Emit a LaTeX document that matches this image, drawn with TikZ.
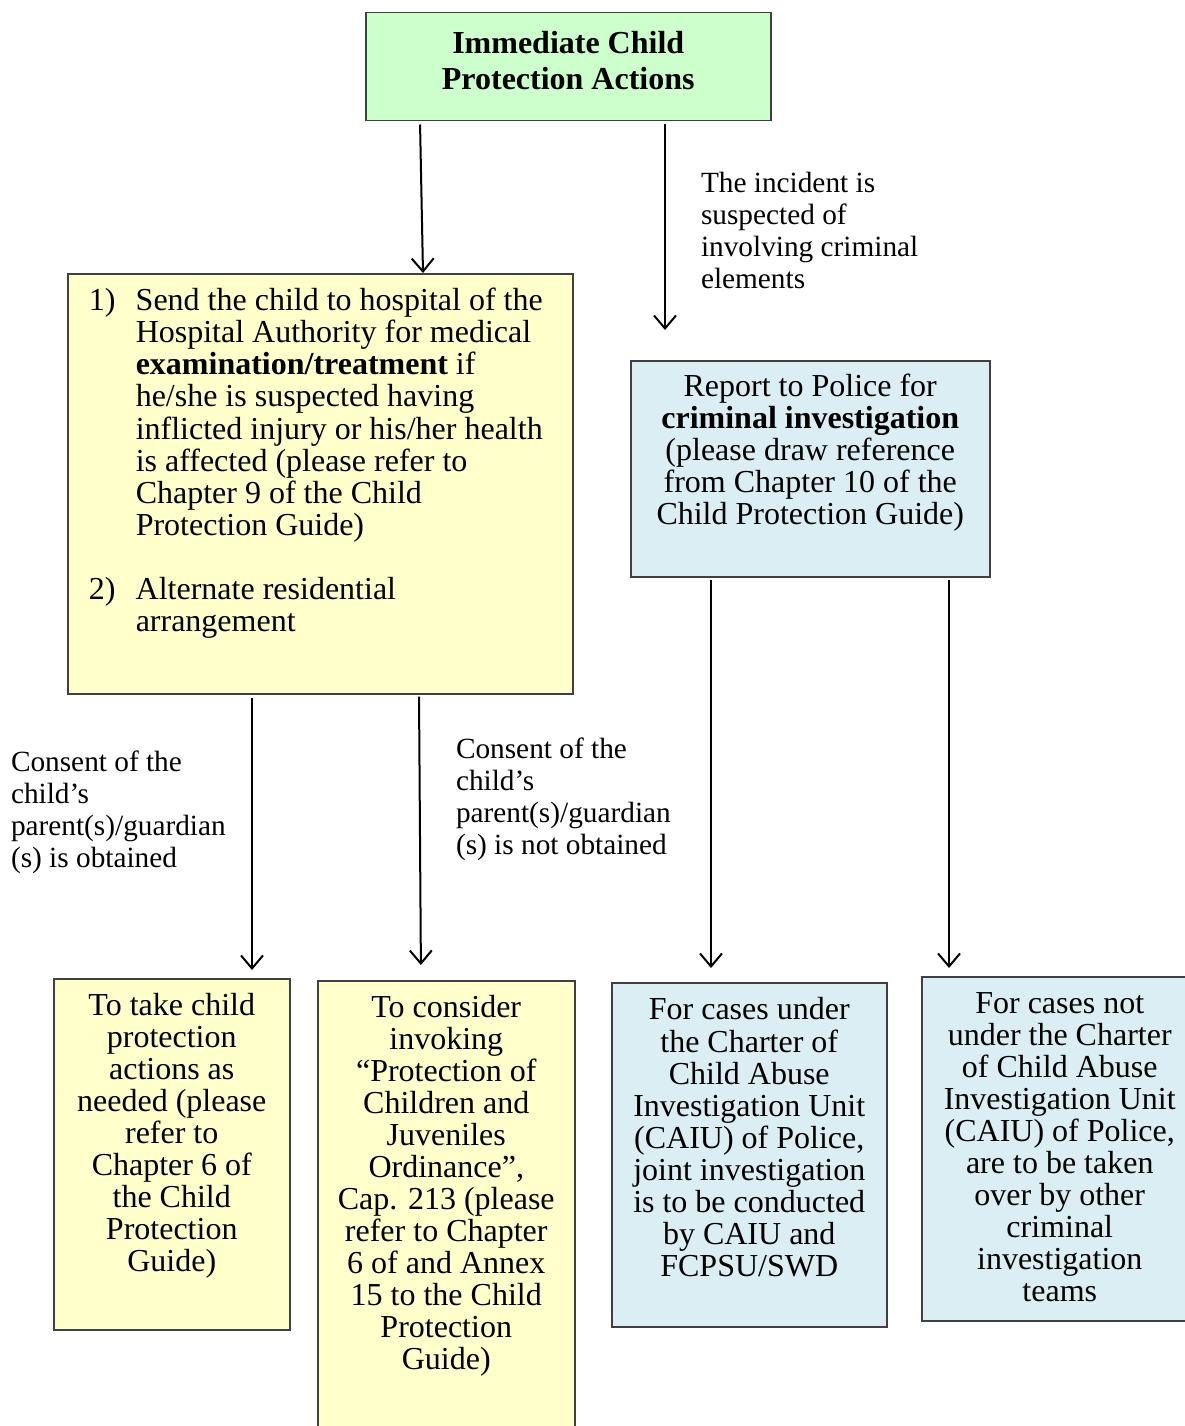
\documentclass[tikz,border=0pt]{standalone}
\usepackage{fontspec}
\setmainfont{Liberation Serif}
\usetikzlibrary{positioning,arrows.meta}
\definecolor{boxgreen}{HTML}{CCFFCC}
\definecolor{boxyellow}{HTML}{FFFFCC}
\definecolor{boxblue}{HTML}{DBEEF4}
\tikzstyle{box}=[draw=black!75,line width=1.5pt,inner sep=0pt,anchor=north west]
\tikzstyle{greenbox}=[box,fill=boxgreen,font=\bfseries\fontsize{32}{36}\selectfont]
\tikzstyle{yellowbox}=[box,fill=boxyellow]
\tikzstyle{bluebox}=[box,fill=boxblue]
\tikzstyle{note}=[inner sep=0pt,anchor=north west,align=left,font=\fontsize{29.3}{32}\selectfont,execute at begin node=\strut]
\newcommand{\newBox}[7][14.4pt]{\node[#3](#2) at (#4) {\begin{minipage}[t][#6][t]{#5}\centering\vspace*{#1}\strut #7\end{minipage}};}
\newcommand{\newArrow}[3]{\draw[->,#3] (#1) -- (#2);}

\begin{document}
\begin{tikzpicture}[x=1pt,y=-1pt,
      >={Straight Barb[length=13pt,width=22pt]},line width=2pt,
      font=\fontsize{32}{32}\selectfont  % 1px = 1pt
      ]
      \useasboundingbox (0,0) rectangle (1184,1426);
      \newBox[15.8pt]{protect}{greenbox}{365,12}{405pt}{108pt}{Immediate Child\\Protection Actions}
      \newBox{care}{yellowbox}{67,273}{505pt}{420pt}{\raggedright\hspace*{21pt}\begin{tabular}[t]{@{}p{47pt}@{}l@{}}
        1) & Send the child to hospital of the\\
           & Hospital Authority for medical\\
           & \textbf{examination/treatment} if\\
           & he/she is suspected having\\
           & inflicted injury or his/her health\\
           & is affected (please refer to\\
           & Chapter 9 of the Child\\
           & Protection Guide)\\[32pt]
        2) & Alternate residential\\
           & arrangement
        \end{tabular}}
      \newBox[13pt]{police}{bluebox}{630,360}{359pt}{216pt}{Report to Police for\\\textbf{criminal investigation}\\(please draw reference\\from Chapter 10 of the\\Child Protection Guide)}
      \newBox{take}{yellowbox}{53,978}{236pt}{351pt}{To take child\\protection\\actions as\\needed (please\\refer to\\Chapter 6 of\\the Child\\Protection\\Guide)}
      \newBox{invoke}{yellowbox}{317,980}{257pt}{470pt}{To consider\\invoking\\“Protection of\\Children and\\Juveniles\\Ordinance”,\\Cap. 213 (please\\refer to Chapter\\6 of and Annex\\15 to the Child\\Protection\\Guide)}
      \newBox{joint}{bluebox}{611,982}{275pt}{344pt}{For cases under\\the Charter of\\Child Abuse\\Investigation Unit\\(CAIU) of Police,\\joint investigation\\is to be conducted\\by CAIU and\\FCPSU/SWD}
      \newBox{other}{bluebox}{921,976}{276pt}{344pt}{For cases not\\under the Charter\\of Child Abuse\\Investigation Unit\\(CAIU) of Police,\\are to be taken\\over by other\\criminal\\investigation\\teams}
      \node[note] (crimnote) at (700,171.6) {The incident is\\suspected of\\involving criminal\\elements};
      \node[note] (consentyes) at (10,749.6) {Consent of the\\child’s\\parent(s)/guardian\\(s) is obtained};
      \node[note] (consentno) at (455,736.6) {Consent of the\\child’s\\parent(s)/guardian\\(s) is not obtained};
      \coordinate (crimend) at (665,330);
      \newArrow{protect.south -| 420,0}{care.north -| 423,0}{shorten <=3pt}
      \newArrow{protect.south -| crimend}{crimend}{shorten <=3pt}
      \newArrow{care.south -| 252,0}{take.north -| 252,0}{shorten <=3pt,shorten >=8pt}
      \newArrow{care.south -| 419,0}{invoke.north -| 421,0}{shorten <=2pt,shorten >=15pt}
      \newArrow{police.south -| 711,0}{joint.north -| 711,0}{shorten <=2pt,shorten >=14pt}
      \newArrow{police.south -| 949,0}{other.north -| 949,0}{shorten <=2pt,shorten >=8pt}
    \end{tikzpicture}
\end{document}
